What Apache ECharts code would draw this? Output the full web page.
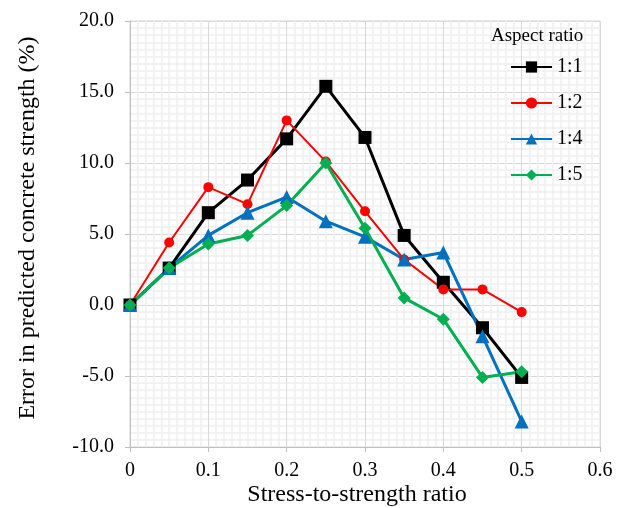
<!DOCTYPE html>
<html>
<head>
<meta charset="utf-8">
<script src="https://cdn.jsdelivr.net/npm/echarts@6/dist/echarts.min.js"></script>
<style>
  html, body { margin: 0; padding: 0; background: #fff; }
  #chart { width: 622px; height: 508px; }
</style>
</head>
<body>
<div id="chart"></div>
<script>
// stress-to-strength ratio
var ratios = [0, 0.05, 0.1, 0.15, 0.2, 0.25, 0.3, 0.35, 0.4, 0.45, 0.5];
// error in predicted strength (%) per aspect ratio
var ar11 = [0, 2.6, 6.5, 8.8, 11.7, 15.4, 11.8, 4.9, 1.6, -1.6, -5.1];
var ar12 = [0, 4.4, 8.3, 7.1, 13.0, 10.1, 6.6, 3.2, 1.1, 1.1, -0.5];
var ar14 = [0, 2.6, 4.9, 6.5, 7.6, 5.9, 4.8, 3.2, 3.7, -2.2, -8.2];
var ar15 = [0, 2.6, 4.3, 4.9, 7.0, 10.0, 5.4, 0.5, -1.0, -5.1, -4.7];
var seriesNames = ['1:1', '1:2', '1:4', '1:5'];

function pairs(vals) {
    var out = [];
    for (var i = 0; i < ratios.length; i++) {
        out.push([ratios[i], vals[i]]);
    }
    return out;
}

var font = 'Liberation Serif';
var chart = echarts.init(document.getElementById('chart'));

var option = {
    backgroundColor: '#fff',
    animation: false,
    textStyle: { fontFamily: font },
    grid: { left: 130, right: 22, top: 21, bottom: 61, show: true, borderColor: '#d9d9d9', borderWidth: 1 },
    graphic: [
        {
            type: 'text', left: 491, top: 27, z: 100,
            style: { text: 'Aspect ratio', fontFamily: font, fontSize: 19, fill: '#000' }
        },
        {
            type: 'text', x: 357, y: 495, z: 100,
            style: { text: 'Stress-to-strength ratio', fontFamily: font, fontSize: 24, fill: '#000',
                     align: 'center', verticalAlign: 'middle' }
        },
        {
            type: 'text', x: 28, y: 228, rotation: Math.PI / 2, z: 100,
            style: { text: 'Error in predicted concrete strength (%)', fontFamily: font, fontSize: 24, fill: '#000',
                     align: 'center', verticalAlign: 'middle' }
        }
    ],
    legend: {
        orient: 'vertical',
        left: 505, top: 52,
        itemWidth: 41, itemHeight: 14, itemGap: 16,
        textStyle: { fontFamily: font, fontSize: 20, color: '#000' },
        data: seriesNames
    },
    xAxis: {
        type: 'value', min: 0, max: 0.6, interval: 0.1,
        axisLine: { onZero: false, lineStyle: { color: '#bfbfbf' } },
        axisTick: { show: true, length: 5, lineStyle: { color: '#bfbfbf' } },
        axisLabel: {
            fontFamily: font, fontSize: 20, color: '#000', margin: 14,
            formatter: function (v) { return v === 0 ? '0' : v.toFixed(1); }
        },
        splitLine: { show: true, lineStyle: { color: '#d9d9d9', width: 1 } },
        minorTick: { show: false, splitNumber: 10 },
        minorSplitLine: { show: true, lineStyle: { color: '#efefef', width: 1.5 } }
    },
    yAxis: {
        type: 'value', min: -10, max: 20, interval: 5,
        axisLine: { show: true, lineStyle: { color: '#bfbfbf' } },
        axisTick: { show: true, length: 5, lineStyle: { color: '#bfbfbf' } },
        axisLabel: {
            fontFamily: font, fontSize: 20, color: '#000', margin: 16,
            formatter: function (v) { return v.toFixed(1); }
        },
        splitLine: { show: true, lineStyle: { color: '#d9d9d9', width: 1 } },
        minorTick: { show: false, splitNumber: 10 },
        minorSplitLine: { show: true, lineStyle: { color: '#efefef', width: 1.5 } }
    },
    series: [
        {
            name: '1:1', type: 'line', data: pairs(ar11),
            symbol: 'rect', symbolSize: 13,
            lineStyle: { color: '#000', width: 3 },
            itemStyle: { color: '#000' }
        },
        {
            name: '1:2', type: 'line', data: pairs(ar12),
            symbol: 'circle', symbolSize: 10,
            lineStyle: { color: '#ff0000', width: 2 },
            itemStyle: { color: '#ff0000' }
        },
        {
            name: '1:4', type: 'line', data: pairs(ar14),
            symbol: 'triangle', symbolSize: 14,
            lineStyle: { color: '#0070c0', width: 3 },
            itemStyle: { color: '#0070c0' }
        },
        {
            name: '1:5', type: 'line', data: pairs(ar15),
            symbol: 'diamond', symbolSize: 13,
            lineStyle: { color: '#00b050', width: 3 },
            itemStyle: { color: '#00b050' }
        }
    ]
};

chart.setOption(option);
</script>
</body>
</html>
